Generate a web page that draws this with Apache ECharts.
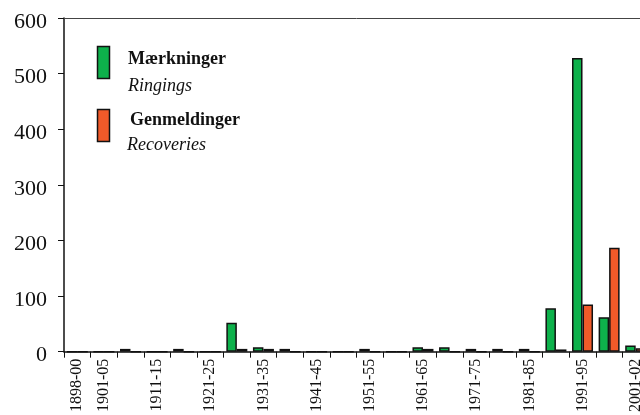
<!DOCTYPE html>
<html><head><meta charset="utf-8">
<script src="https://cdn.jsdelivr.net/npm/echarts@6/dist/echarts.min.js"></script>
<style>html,body{margin:0;padding:0;background:#fff;overflow:hidden;width:640px;height:415px}#c{width:649px;height:415px}</style>
</head><body><div id="c"></div>
<script>
const categories = ['1898-00','1901-05','1906-10','1911-15','1916-20','1921-25','1926-30','1931-35','1936-40','1941-45','1946-50','1951-55','1956-60','1961-65','1966-70','1971-75','1976-80','1981-85','1986-90','1991-95','1996-00','2001-02'];
const ringings   = [0,0,5,0,5,0,52,8,5,0,0,5,0,8,8,5,5,5,78,528,62,11];
const recoveries = [0,0,0,0,0,0,5,5,0,0,0,0,0,5,0,0,0,0,4,85,187,6];
const seriesNames = ['Mærkninger','Genmeldinger'];
const seriesSubNames = ['Ringings','Recoveries'];
const yTicks = [0,100,200,300,400,500,600];

const font = '"Liberation Serif", "Times New Roman", serif';
const green = '#0db14b', red = '#f15a29';
const chart = echarts.init(document.getElementById('c'));
chart.setOption({
  animation:false,
  grid:{left:64, top:18, right:0, bottom:61},
  xAxis:[{
    type:'category', data:categories,
    axisLine:{lineStyle:{color:'#111', width:1.5}},
    axisTick:{show:true, alignWithLabel:false, interval:0, length:6, lineStyle:{color:'#111', width:1}},
    axisLabel:{rotate:90, margin:7, fontFamily:font, fontSize:16, color:'#111',
      interval:(i)=> i===0 || i%2===1},
    splitLine:{show:false}
  },{
    type:'category', data:categories, position:'top',
    axisLine:{lineStyle:{color:'#444', width:1}}, axisTick:{show:false}, axisLabel:{show:false}
  }],
  yAxis:{
    type:'value', min:yTicks[0], max:yTicks[yTicks.length-1], interval:100,
    axisLine:{show:true, lineStyle:{color:'#111', width:1.5}},
    axisTick:{show:true, length:6, lineStyle:{color:'#111', width:1}},
    axisLabel:{margin:17, color:'#111', formatter:'{v|{value}}',
      rich:{v:{fontFamily:font, fontSize:22, color:'#111', padding:[8,0,0,0]}}},
    splitLine:{show:false}
  },
  series:[
    {name:seriesNames[0], type:'bar', data:ringings, barWidth:10.5, barGap:'0%',
     itemStyle:{color:green, borderColor:'#111', borderWidth:1.5}},
    {name:seriesNames[1], type:'bar', data:recoveries, barWidth:10.5, barGap:'0%',
     itemStyle:{color:red, borderColor:'#111', borderWidth:1.5}}
  ],
  graphic:[
    {type:'rect', shape:{x:97.5, y:46.5, width:12, height:32}, style:{fill:green, stroke:'#111', lineWidth:1.5}},
    {type:'text', x:128, y:59, style:{text:seriesNames[0], font:'bold 18px '+font, fill:'#111', verticalAlign:'middle'}},
    {type:'text', x:128, y:86, style:{text:seriesSubNames[0], font:'italic 18px '+font, fill:'#111', verticalAlign:'middle'}},
    {type:'rect', shape:{x:97.5, y:109.5, width:12, height:32}, style:{fill:red, stroke:'#111', lineWidth:1.5}},
    {type:'text', x:130, y:120, style:{text:seriesNames[1], font:'bold 18px '+font, fill:'#111', verticalAlign:'middle'}},
    {type:'text', x:127, y:145, style:{text:seriesSubNames[1], font:'italic 18px '+font, fill:'#111', verticalAlign:'middle'}}
  ]
});
</script></body></html>
